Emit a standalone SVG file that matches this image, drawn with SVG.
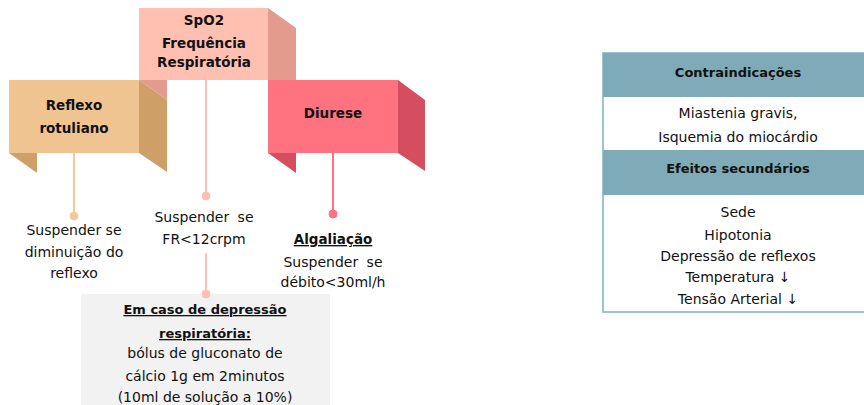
<svg xmlns="http://www.w3.org/2000/svg" width="864" height="405" viewBox="0 0 864 405">
  <style>
    text { font-family: "DejaVu Sans", "Liberation Sans", sans-serif; fill: #111; text-anchor: middle; }
    .lbl { font-size: 13.5px; font-weight: bold; }
    .txt { font-size: 14px; }
    .hd { font-size: 13px; font-weight: bold; }
    .ul { text-decoration: underline; }
    .c-ref { stroke: #F3C999; fill: #F3C999; }
    .c-spo { stroke: #FFBFB1; fill: #FFBFB1; }
    .c-diu { stroke: #FF7381; fill: #FF7381; }
    .line { stroke-width: 2; fill: none; }
  </style>

  <!-- SpO2 ribbon (drawn first, sits behind the other two) -->
  <g id="node-spo2">
    <polygon points="268,8 296,28 296,100 268,80" fill="#E29B8D"/>
    <polygon points="139,80 167,80 167,100" fill="#E29B8D"/>
    <rect x="139" y="8" width="129" height="72" fill="#FFC0B2"/>
    <text class="lbl" x="204" y="25">SpO2</text>
    <text class="lbl" x="204" y="48">Frequência</text>
    <text class="lbl" x="204" y="67">Respiratória</text>
  </g>

  <!-- Reflexo rotuliano ribbon -->
  <g id="node-reflexo">
    <polygon points="139,80 167,100 167,172 139,153" fill="#CEA068"/>
    <polygon points="9,153 37,153 37,173" fill="#CEA068"/>
    <rect x="9" y="80" width="130" height="73" fill="#F0C491"/>
    <text class="lbl" x="74" y="110">Reflexo</text>
    <text class="lbl" x="74" y="133">rotuliano</text>
  </g>

  <!-- Diurese ribbon -->
  <g id="node-diurese">
    <polygon points="398,80 425,100 425,171 398,153" fill="#D54E60"/>
    <polygon points="268,153 296,153 296,173" fill="#D54E60"/>
    <rect x="268" y="80" width="130" height="73" fill="#FF7381"/>
    <text class="lbl" x="333" y="118">Diurese</text>
  </g>

  <!-- Connectors with dot ends -->
  <g id="connectors">
    <line class="line c-ref" x1="74" y1="153" x2="74" y2="216"/>
    <circle class="c-ref" cx="74" cy="216" r="4" stroke="none"/>
    <line class="line c-spo" x1="206" y1="80" x2="206" y2="196"/>
    <circle class="c-spo" cx="206" cy="196" r="4" stroke="none"/>
    <line class="line c-spo" x1="206" y1="253" x2="206" y2="294"/>
    <line class="line c-diu" x1="333" y1="153" x2="333" y2="214"/>
    <circle class="c-diu" cx="333" cy="214" r="4" stroke="none"/>
  </g>

  <!-- Notes under each ribbon -->
  <g id="note-reflexo">
    <text class="txt" x="74" y="235">Suspender se</text>
    <text class="txt" x="74" y="257">diminuição do</text>
    <text class="txt" x="74" y="278">reflexo</text>
  </g>
  <g id="note-spo2">
    <text class="txt" x="204" y="222" word-spacing="4">Suspender se</text>
    <text class="txt" x="204" y="244">FR&lt;12crpm</text>
  </g>
  <g id="note-diurese">
    <text class="hd ul" x="333" y="244" style="font-size:13.5px">Algaliação</text>
    <text class="txt" x="333" y="267" word-spacing="4">Suspender se</text>
    <text class="txt" x="333" y="287">débito&lt;30ml/h</text>
  </g>

  <!-- Respiratory depression box -->
  <g id="node-depressao">
    <rect x="81" y="294" width="249" height="115" fill="#F2F2F2"/>
    <circle class="c-spo" cx="206" cy="294" r="4" stroke="none"/>
    <text class="hd ul" x="205" y="314">Em caso de depressão</text>
    <text class="hd ul" x="205" y="338">respiratória:</text>
    <text class="txt" x="205" y="358">bólus de gluconato de</text>
    <text class="txt" x="205" y="381">cálcio 1g em 2minutos</text>
    <text class="txt" x="205" y="402">(10ml de solução a 10%)</text>
  </g>

  <!-- Contraindications / side effects table -->
  <g id="node-tabela">
    <rect x="603" y="53" width="264" height="259" fill="#FFFFFF" stroke="#9EC3CC" stroke-width="2"/>
    <rect x="603" y="53" width="264" height="44" fill="#7FAAB7"/>
    <rect x="603" y="150" width="264" height="45" fill="#7FAAB7"/>
    <text class="hd" x="738" y="77">Contraindicações</text>
    <text class="txt" x="738" y="118">Miastenia gravis,</text>
    <text class="txt" x="738" y="142">Isquemia do miocárdio</text>
    <text class="hd" x="738" y="173">Efeitos secundários</text>
    <text class="txt" x="738" y="217">Sede</text>
    <text class="txt" x="738" y="240">Hipotonia</text>
    <text class="txt" x="738" y="261">Depressão de reflexos</text>
    <text class="txt" x="738" y="282">Temperatura ↓</text>
    <text class="txt" x="738" y="304">Tensão Arterial ↓</text>
  </g>
</svg>
